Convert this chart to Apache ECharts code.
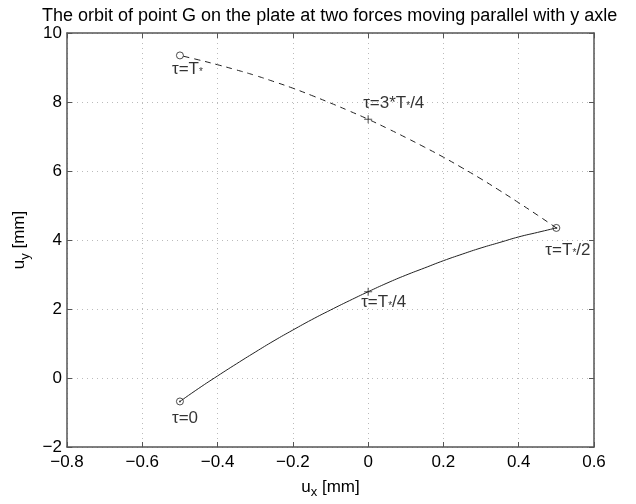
<!DOCTYPE html>
<html><head><meta charset="utf-8">
<script src="https://cdn.jsdelivr.net/npm/echarts@6/dist/echarts.min.js"></script>
<style>html,body{margin:0;padding:0;background:#fff}#c{width:636px;height:504px}</style>
</head><body><div id="c"></div>
<script>
// Solid branch: tau = 0 .. T*/2
const uxSolid = [-0.5,-0.45,-0.4,-0.35,-0.3,-0.25,-0.2,-0.15,-0.1,-0.05,0,0.05,0.1,0.15,0.2,0.25,0.3,0.35,0.4,0.45,0.5];
const uySolid = [-0.68,-0.30,0.06,0.41,0.75,1.08,1.39,1.69,1.97,2.24,2.5,2.75,2.98,3.19,3.40,3.59,3.77,3.93,4.09,4.22,4.35];
// Dashed branch: tau = T*/2 .. T*
const uxDash = [0.5,0.45,0.4,0.35,0.3,0.25,0.2,0.15,0.1,0.05,0,-0.05,-0.1,-0.15,-0.2,-0.25,-0.3,-0.35,-0.4,-0.45,-0.5];
const uyDash = [4.35,4.72,5.08,5.43,5.77,6.09,6.40,6.69,6.97,7.24,7.5,7.74,7.97,8.19,8.40,8.59,8.77,8.93,9.08,9.22,9.35];
// Marked points
const circleX = [-0.5, 0.5, -0.5];
const circleY = [-0.68, 4.35, 9.35];
const dotX = [-0.5, 0.5];
const dotY = [-0.68, 4.35];
const plusX = [0, 0];
const plusY = [2.5, 7.5];
// Annotations
const annX = [-0.5, 0, 0.5, 0, -0.5];
const annY = [-0.68, 2.5, 4.35, 7.5, 9.35];
const annText = ['{t|τ=0}', '{t|τ=T}{s|*}{t|/4}', '{t|τ=T}{s|*}{t|/2}', '{t|τ=3*T}{s|*}{t|/4}', '{t|τ=T}{s|*}'];
const xTicks = [-0.8,-0.6,-0.4,-0.2,0,0.2,0.4,0.6];
const yTicks = [-2,0,2,4,6,8,10];

const annOffsets = [[-8,17],[-7,11],[-11,22],[-5,-16],[-8,14]];
const font = '"Liberation Sans", Arial, sans-serif';
const chart = echarts.init(document.getElementById('c'), null, {renderer:'canvas'});
const zip = (a,b) => a.map((v,i)=>[v,b[i]]);
const plusPath = 'path://M0,5L10,5M5,0L5,10';
const axisCommon = {
  type:'value', axisLine:{show:true, onZero:false, lineStyle:{color:'#555', width:1.5}},
  axisTick:{show:true, inside:true, length:5, lineStyle:{color:'#555'}},
  splitLine:{show:false}
};
chart.setOption({
  animation:false,
  backgroundColor:'#fff',
  title:{text:'The orbit of point G on the plate at two forces moving parallel with y axle', left:37, top:2,
    textStyle:{fontFamily:font, fontSize:18, fontWeight:'normal', color:'#000'}},
  grid:{left:67, right:42, top:33, bottom:57, containLabel:false},
  xAxis:[
    Object.assign({}, axisCommon, {position:'bottom', min:-0.8, max:0.6, interval:0.2,
      axisLabel:{color:'#000', fontFamily:font, fontSize:17, margin:7, formatter:v=>(Math.round(v*10)/10).toString().replace('-','\u2212')},
      splitLine:{show:true, lineStyle:{color:'#bbb', type:[1,4], width:1}},
      name:'{u|u}{s|x}{u| [mm]}', nameLocation:'middle', nameGap:28,
      nameTextStyle:{rich:{u:{fontFamily:font, fontSize:17, color:'#000'}, s:{fontFamily:font, fontSize:13, color:'#000', padding:[11,0,0,0]}}}}),
    Object.assign({}, axisCommon, {position:'top', min:-0.8, max:0.6, interval:0.2, axisLabel:{show:false}})
  ],
  yAxis:[
    Object.assign({}, axisCommon, {position:'left', min:-2, max:10, interval:2,
      axisLabel:{color:'#000', fontFamily:font, fontSize:17, margin:5, formatter:v=>v.toString().replace('-','\u2212')},
      splitLine:{show:true, lineStyle:{color:'#bbb', type:[1,4], width:1}},
      name:'{u|u}{s|y}{u| [mm]}', nameLocation:'middle', nameGap:33, nameRotate:90,
      nameTextStyle:{rich:{u:{fontFamily:font, fontSize:17, color:'#000'}, s:{fontFamily:font, fontSize:13, color:'#000', padding:[11,0,0,0]}}}}),
    Object.assign({}, axisCommon, {position:'right', min:-2, max:10, interval:2, axisLabel:{show:false}})
  ],
  series:[
    {type:'line', data:zip(uxSolid,uySolid), showSymbol:false, smooth:true, lineStyle:{color:'#222', width:1}},
    {type:'line', data:zip(uxDash,uyDash), showSymbol:false, smooth:true, lineStyle:{color:'#222', width:1, type:[6,5]}},
    {type:'scatter', data:zip(circleX,circleY), symbol:'circle', symbolSize:7, itemStyle:{color:'#fff', borderColor:'#222', borderWidth:1}},
    {type:'scatter', data:zip(dotX,dotY), symbol:'circle', symbolSize:2, itemStyle:{color:'#222'}},
    {type:'scatter', data:zip(plusX,plusY), symbol:plusPath, symbolSize:8, itemStyle:{color:'none', borderColor:'#222', borderWidth:1}},
    {type:'scatter', data:annX.map((x,i)=>({value:[x,annY[i]], label:{show:true, formatter:annText[i], offset:annOffsets[i]}})),
      symbolSize:0, silent:true,
      label:{position:'inside', align:'left', verticalAlign:'middle', rich:{t:{fontFamily:font, fontSize:17, color:'#000'}, s:{fontFamily:font, fontSize:10, color:'#000', padding:[6,0,0,0]}}}}
  ]
});
</script></body></html>
